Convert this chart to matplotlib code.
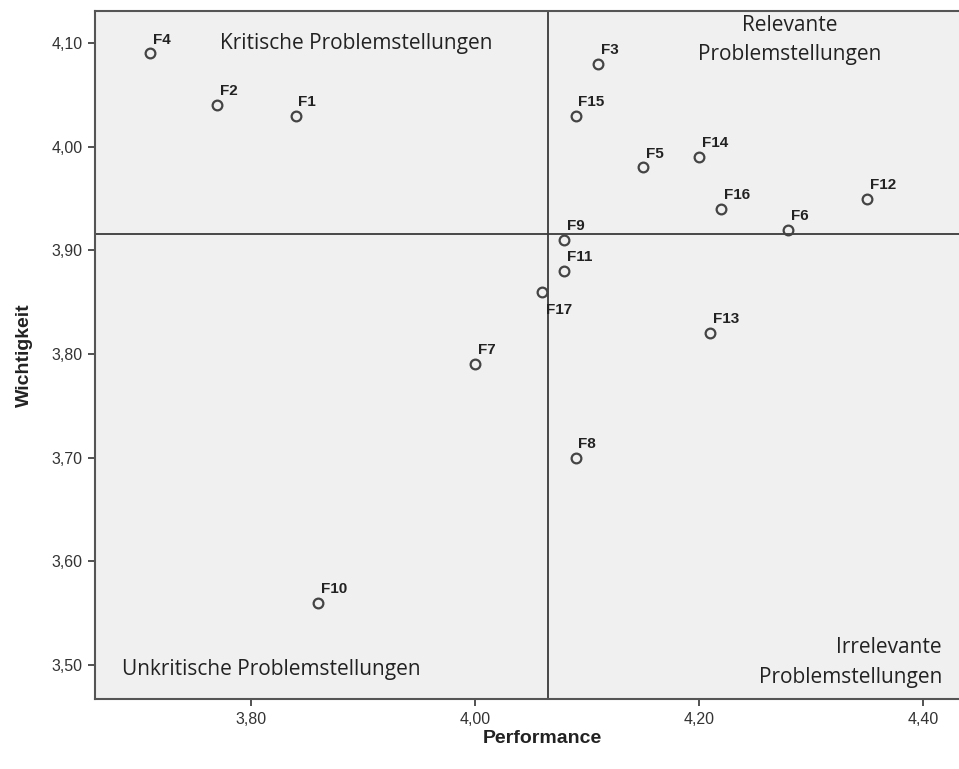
import matplotlib
matplotlib.use("Agg")
import matplotlib.pyplot as plt
from matplotlib.ticker import FuncFormatter

# Importance-performance portfolio
labels = ["F1", "F2", "F3", "F4", "F5", "F6", "F7", "F8", "F9", "F10",
          "F11", "F12", "F13", "F14", "F15", "F16", "F17"]
performance = [3.84, 3.77, 4.11, 3.71, 4.15, 4.28, 4.00, 4.09, 4.08, 3.86,
               4.08, 4.35, 4.21, 4.20, 4.09, 4.22, 4.06]
wichtigkeit = [4.03, 4.04, 4.08, 4.09, 3.98, 3.92, 3.79, 3.70, 3.91, 3.56,
               3.88, 3.95, 3.82, 3.99, 4.03, 3.94, 3.86]
x_ticks = [3.80, 4.00, 4.20, 4.40]
y_ticks = [3.50, 3.60, 3.70, 3.80, 3.90, 4.00, 4.10]
perf_mean = 4.065
wicht_mean = 3.916

fig = plt.figure(figsize=(9.59, 7.69), dpi=100)
ax = fig.add_axes([95 / 959, 70 / 769, 866 / 959, 688 / 769])
ax.set_facecolor("#f0f0f0")

ax.axvline(perf_mean, color="#3a3a3a", lw=1.3, zorder=1)
ax.axhline(wicht_mean, color="#3a3a3a", lw=1.3, zorder=1)

ax.plot(performance, wichtigkeit, "o", ms=7, mfc="none", mec="#444444",
        mew=1.6, zorder=3)

for lab, x, y in zip(labels, performance, wichtigkeit):
    if lab == "F17":
        ax.annotate(lab, (x, y), xytext=(3, -8), textcoords="offset points",
                    ha="left", va="top", fontsize=11, fontweight="bold",
                    family="Liberation Sans", color="#222222")
    else:
        ax.annotate(lab, (x, y), xytext=(2, 5), textcoords="offset points",
                    ha="left", va="bottom", fontsize=11, fontweight="bold",
                    family="Liberation Sans", color="#222222")

qfont = dict(family="Open Sans", fontsize=15, color="#222222")
ax.text(3.894, 4.100, "Kritische Problemstellungen", ha="center", va="center", **qfont)
ax.text(4.2815, 4.103, "Relevante\nProblemstellungen", ha="center", va="center",
        linespacing=1.55, **qfont)
ax.text(3.685, 3.495, "Unkritische Problemstellungen", ha="left", va="center", **qfont)
ax.text(4.417, 3.502, "Irrelevante\nProblemstellungen", ha="right", va="center",
        linespacing=1.55, **qfont)

ax.set_xlim(3.661, 4.434)
ax.set_ylim(3.467, 4.131)
ax.set_xticks(x_ticks)
ax.set_yticks(y_ticks)
comma = FuncFormatter(lambda v, p: f"{v:.2f}".replace(".", ","))
ax.xaxis.set_major_formatter(comma)
ax.yaxis.set_major_formatter(comma)
ax.tick_params(direction="out", length=5, width=1.3, color="#444444",
               labelsize=11.5, labelcolor="#333333", pad=4)
for t in ax.get_xticklabels() + ax.get_yticklabels():
    t.set_family("Liberation Sans")

for s in ["left", "bottom", "top"]:
    ax.spines[s].set_color("#555555")
    ax.spines[s].set_linewidth(1.5)
ax.spines["right"].set_visible(False)

ax.set_xlabel("Performance", fontsize=14, fontweight="bold",
              family="Liberation Sans", color="#222222")
ax.set_ylabel("Wichtigkeit", fontsize=14, fontweight="bold",
              family="Liberation Sans", color="#222222")
ax.xaxis.set_label_coords(0.517, -0.045)
ax.yaxis.set_label_coords(-0.072, 0.5)

fig.savefig("out.png", dpi=100)
